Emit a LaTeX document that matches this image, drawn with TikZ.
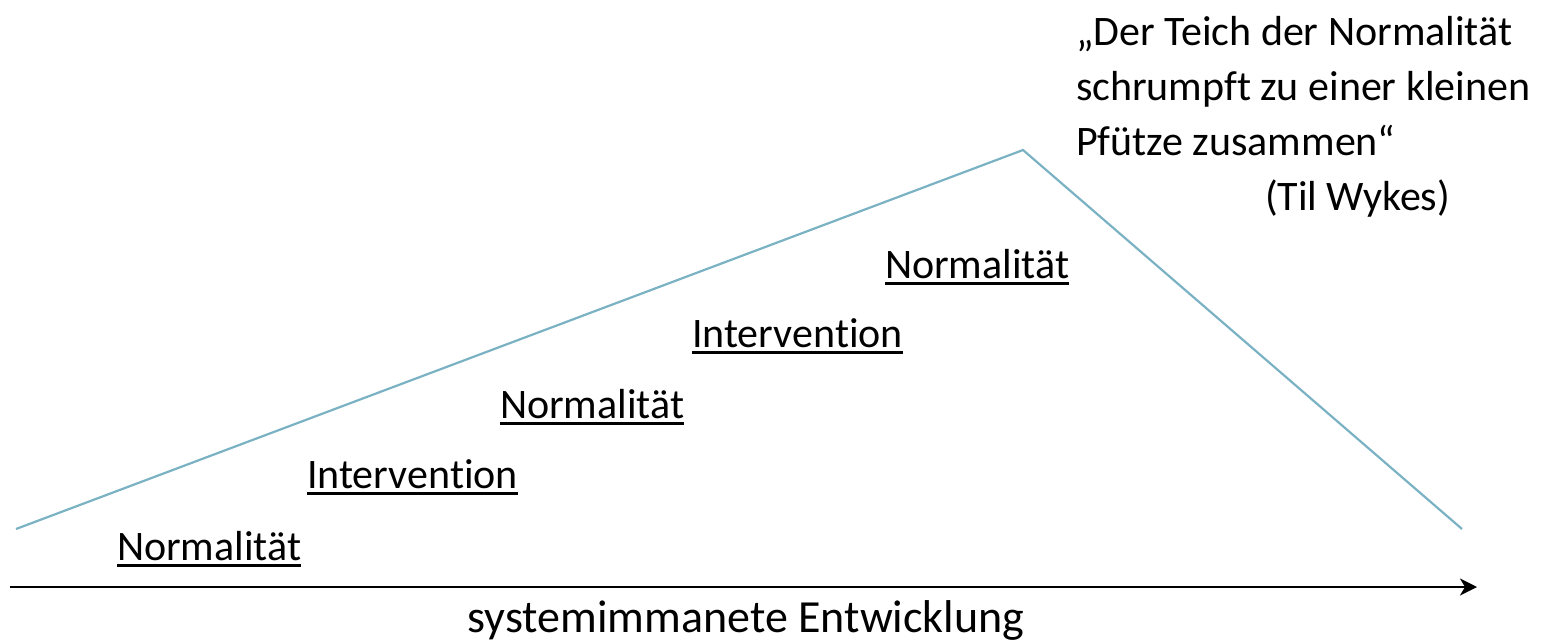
\documentclass[tikz,border=0pt]{standalone}
\usepackage{fontspec}
\setmainfont{Carlito}[Ligatures=NoCommon]
\usetikzlibrary{arrows.meta}
\definecolor{teichblue}{RGB}{122,178,196}
\newcommand\myul[1]{\setbox0\hbox{#1}\rlap{\rule[-6.7pt]{\wd0}{3pt}}\box0}
\begin{document}
\begin{tikzpicture}[x=1pt,y=-1pt,
  lbl/.style={inner sep=0pt, outer sep=0pt, anchor=base west, font=\fontsize{42}{50}\selectfont},
  teich/.style={draw=teichblue, line width=2.2pt, line join=miter},
  axis/.style={draw=black, line width=2.2pt, -{Stealth[length=17pt,width=17pt,inset=5pt]}}]
\useasboundingbox (0,0) rectangle (1552,641);
% pond outline
\coordinate (tl) at (16,529);
\coordinate (tp) at (1023,150);
\coordinate (tr) at (1462,529);
\draw[teich] (tl) -- (tp) -- (tr);
% axis
\coordinate (as) at (10,587);
\coordinate (ae) at (1477,587);
\draw[axis] (as) -- (ae);
\node[inner sep=0pt, anchor=base, font=\fontsize{46}{52}\selectfont] (ax) at (746,632) {systemimmanete Entwicklung};
% stages
\node[lbl] (n1) at (117,560) {\myul{Normalität}};
\node[lbl] (i1) at (307,488) {\myul{Intervention}};
\node[lbl] (n2) at (500,418) {\myul{Normalität}};
\node[lbl] (i2) at (692,347) {\myul{Intervention}};
\node[lbl] (n3) at (885,278) {\myul{Normalität}};
% quote
\node[lbl, align=left, font=\fontsize{42}{55}\selectfont] (q) at (1076,155) {„Der Teich der Normalität\\schrumpft zu einer kleinen\\Pfütze zusammen“};
\node[lbl] (au) at (1265,210) {(Til Wykes)};
\end{tikzpicture}
\end{document}
